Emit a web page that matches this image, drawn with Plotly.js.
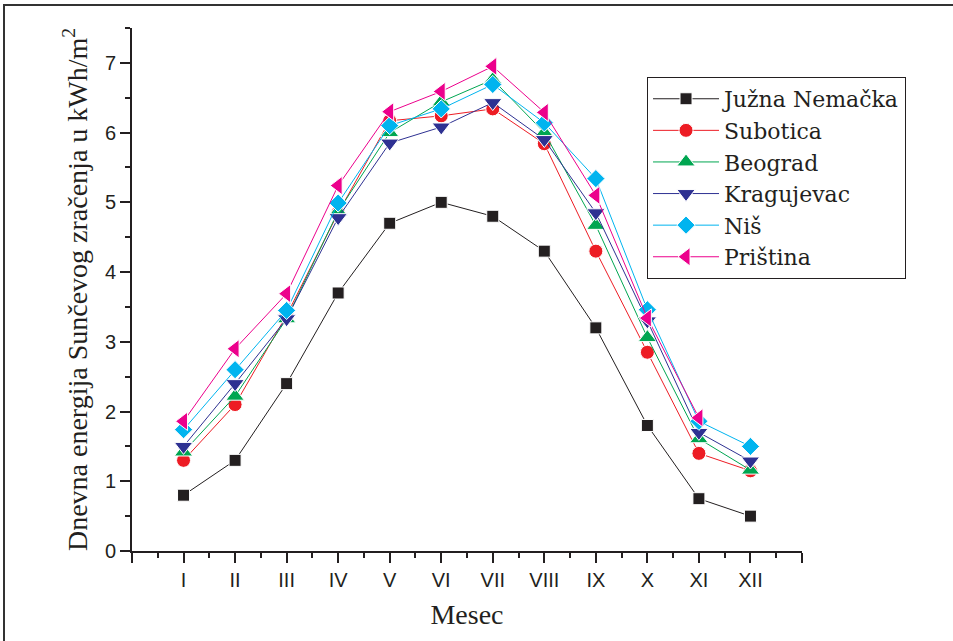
<!DOCTYPE html>
<html>
<head>
<meta charset="utf-8">
<script src="https://cdn.plot.ly/plotly-3.0.1.min.js"></script>
<style>
  html, body { margin: 0; padding: 0; background: #fff; }
  #wrap { position: relative; width: 953px; height: 641px; overflow: hidden; }
  #chart { position: absolute; left: 0; top: 0; width: 953px; height: 641px; }
  #frame { position: absolute; left: 3px; top: 4px; width: 1200px; height: 1200px;
           border-top: 2px solid #333; border-left: 2px solid #333; pointer-events: none; }
</style>
</head>
<body>
<div id="wrap">
  <div id="chart"></div>
  <div id="frame"></div>
</div>
<script>
// Months (x positions 1..12) and labels
const months = [1, 2, 3, 4, 5, 6, 7, 8, 9, 10, 11, 12];
const monthLabels = ['I', 'II', 'III', 'IV', 'V', 'VI', 'VII', 'VIII', 'IX', 'X', 'XI', 'XII'];

// Series values (kWh/m2 per day)
const juznaNemacka = [0.8, 1.3, 2.4, 3.7, 4.7, 5.0, 4.8, 4.3, 3.2, 1.8, 0.75, 0.5];
const subotica     = [1.3, 2.1, 3.38, 4.85, 6.17, 6.24, 6.34, 5.84, 4.3, 2.85, 1.4, 1.15];
const beograd      = [1.42, 2.22, 3.33, 4.87, 6.0, 6.44, 6.76, 6.0, 4.67, 3.06, 1.61, 1.16];
const kragujevac   = [1.5, 2.4, 3.33, 4.78, 5.85, 6.08, 6.43, 5.9, 4.85, 3.3, 1.7, 1.29];
const nis          = [1.74, 2.6, 3.45, 4.99, 6.1, 6.34, 6.69, 6.14, 5.34, 3.46, 1.86, 1.5];
const pristina     = [1.86, 2.9, 3.69, 5.24, 6.3, 6.59, 6.95, 6.29, 5.1, 3.34, 1.91, null];

const seriesNames = ['Južna Nemačka', 'Subotica', 'Beograd', 'Kragujevac', 'Niš', 'Priština'];
const seriesData = [juznaNemacka, subotica, beograd, kragujevac, nis, pristina];
const colors = ['#231f20', '#ed1c24', '#00a651', '#2e3192', '#00b4ef', '#ec008c'];
const symbols = ['square', 'circle', 'triangle-up', 'triangle-down', 'diamond', 'triangle-left'];
const sizes = [12, 14, 16, 16, 14, 16];

const traces = seriesNames.map((name, i) => ({
  x: months,
  y: seriesData[i],
  name: name,
  type: 'scatter',
  mode: 'lines+markers',
  line: { color: colors[i], width: 1 },
  marker: { symbol: symbols[i], color: colors[i], size: sizes[i], line: { color: '#ffffff', width: 1 } },
  connectgaps: false
}));

const axisColor = '#231f20';
const layout = {
  width: 953,
  height: 641,
  margin: { l: 132, r: 151, t: 28, b: 90 },
  paper_bgcolor: '#ffffff',
  plot_bgcolor: '#ffffff',
  showlegend: true,
  xaxis: {
    range: [0, 13],
    tickmode: 'array',
    tickvals: [0].concat(months, [13]),
    ticktext: [''].concat(monthLabels, ['']),
    ticks: 'outside',
    ticklen: 10,
    tickwidth: 2,
    tickcolor: axisColor,
    showline: true,
    linecolor: axisColor,
    linewidth: 2,
    showgrid: false,
    zeroline: false,
    minor: { tickmode: 'linear', tick0: 0.5, dtick: 1, ticks: 'outside', ticklen: 5, tickwidth: 2, tickcolor: axisColor, showgrid: false },
    tickfont: { family: 'Liberation Sans, Arial, sans-serif', size: 20, color: axisColor },
    title: { text: 'Mesec', font: { family: 'Liberation Serif, Times New Roman, serif', size: 28, color: axisColor }, standoff: 14 }
  },
  yaxis: {
    range: [0, 7.5],
    tickmode: 'linear',
    tick0: 0,
    dtick: 1,
    ticks: 'outside',
    ticklen: 10,
    tickwidth: 2,
    tickcolor: axisColor,
    showline: true,
    linecolor: axisColor,
    linewidth: 2,
    showgrid: false,
    zeroline: false,
    minor: { tickmode: 'linear', tick0: 0.5, dtick: 1, ticks: 'outside', ticklen: 5, tickwidth: 2, tickcolor: axisColor, showgrid: false },
    tickfont: { family: 'Liberation Sans, Arial, sans-serif', size: 20, color: axisColor },
    title: { text: 'Dnevna energija Sunčevog zračenja u kWh/m<sup>2</sup>', font: { family: 'Liberation Serif, Times New Roman, serif', size: 28, color: axisColor }, standoff: 9 }
  },
  legend: {
    x: 0.7687,
    y: 0.9064,
    xanchor: 'left',
    yanchor: 'top',
    bgcolor: '#ffffff',
    bordercolor: '#231f20',
    borderwidth: 1,
    itemwidth: 66,
    font: { family: 'DejaVu Serif, Liberation Serif, serif', size: 22, color: axisColor },
    tracegroupgap: 0
  }
};

Plotly.newPlot('chart', traces, layout, { displayModeBar: false, staticPlot: true });
</script>
</body>
</html>
